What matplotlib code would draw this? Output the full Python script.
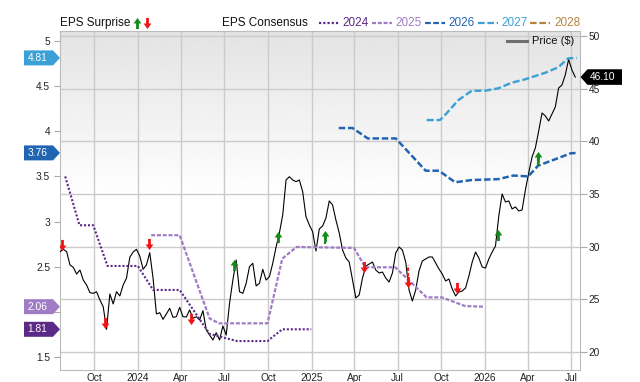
import numpy as np
import pandas as pd
import matplotlib
matplotlib.use("Agg")
import matplotlib.pyplot as plt
from matplotlib.path import Path
from matplotlib.patches import Polygon
from matplotlib.lines import Line2D
from matplotlib.transforms import IdentityTransform

plt.rcParams['font.family'] = ['Liberation Sans', 'DejaVu Sans']

# weekly closing price ($), first week 2023-07-21
price_start = "2023-07-21"
price = [29.52, 29.75, 29.52, 28.26, 28.04, 27.40, 27.78, 26.83, 26.36, 25.63,
         25.57, 25.72, 24.94, 24.30, 22.15, 25.51, 24.56, 25.72, 25.32, 26.36,
         27.00, 28.99, 29.49, 29.75, 29.11, 27.85, 28.26, 29.43, 27.00, 23.61,
         23.73, 23.10, 23.61, 24.15, 23.29, 23.35, 24.24, 23.35, 23.32, 23.99,
         23.20, 23.35, 23.04, 23.92, 22.09, 21.61, 21.14, 21.83, 21.14, 22.47,
         21.61, 24.62, 26.83, 28.73, 25.72, 25.57, 26.52, 28.10, 28.42, 26.27,
         26.52, 27.85, 26.83, 27.15, 28.42, 29.97, 31.30, 33.01, 36.33, 36.64,
         36.33, 36.17, 36.33, 35.22, 32.85, 32.06, 31.42, 29.59, 31.68, 31.96,
         32.72, 34.34, 33.96, 32.53, 31.30, 29.68, 28.92, 28.54, 26.83, 25.13,
         25.41, 27.02, 28.16, 28.35, 28.54, 27.78, 27.50, 27.59, 27.02, 26.64,
         27.50, 29.40, 29.97, 29.68, 28.54, 25.89, 24.84, 25.89, 27.69, 28.64,
         28.83, 29.02, 29.02, 28.45, 27.88, 27.40, 26.74, 26.93, 25.98, 25.32,
         25.70, 25.79, 26.08, 27.21, 28.54, 29.49, 28.92, 28.07, 27.97, 28.83,
         29.49, 30.06, 32.91, 35.00, 34.24, 34.34, 33.58, 33.77, 33.39, 33.48,
         35.38, 36.99, 38.51, 39.37, 40.98, 42.69, 42.41, 41.93, 42.60, 43.26,
         45.06, 45.35, 46.30, 47.77, 46.77, 46.10]

# EPS consensus by fiscal year
eps24_dates = ["2023-08-01", "2023-08-31", "2023-09-29", "2023-10-29", "2024-01-01",
               "2024-02-02", "2024-03-29", "2024-05-31", "2024-06-28", "2024-07-28",
               "2024-09-30", "2024-10-31", "2024-12-31"]
eps24 = [3.50, 2.96, 2.96, 2.51, 2.51, 2.245, 2.245, 1.76, 1.72, 1.68, 1.68, 1.81, 1.81]

eps25_dates = ["2024-01-29", "2024-03-29", "2024-05-31", "2024-06-20", "2024-09-30",
               "2024-10-31", "2024-11-30", "2025-03-31", "2025-04-24", "2025-06-26",
               "2025-08-31", "2025-10-02", "2025-11-20", "2025-12-29"]
eps25 = [2.85, 2.85, 1.93, 1.876, 1.876, 2.59, 2.72, 2.71, 2.495, 2.495,
         2.163, 2.163, 2.067, 2.06]

eps26_dates = ["2025-02-27", "2025-03-28", "2025-04-29", "2025-06-27", "2025-08-29",
               "2025-09-26", "2025-10-30", "2025-12-04", "2026-01-29", "2026-03-02",
               "2026-04-02", "2026-04-23", "2026-05-29", "2026-06-30", "2026-07-13"]
eps26 = [4.035, 4.035, 3.92, 3.92, 3.563, 3.563, 3.435, 3.46, 3.47, 3.51,
         3.50, 3.62, 3.69, 3.755, 3.76]

eps27_dates = ["2025-08-31", "2025-09-28", "2025-10-09", "2025-11-06", "2025-12-04",
               "2026-01-01", "2026-01-29", "2026-02-26", "2026-03-26", "2026-05-08",
               "2026-06-04", "2026-06-25", "2026-07-13"]
eps27 = [4.123, 4.123, 4.18, 4.344, 4.447, 4.447, 4.474, 4.536, 4.573, 4.646,
         4.706, 4.805, 4.81]

# EPS surprise markers (placed on the price scale)
surprise_dates = ["2023-07-26", "2023-10-24", "2024-01-25", "2024-04-22", "2024-07-22",
                  "2024-10-23", "2025-01-28", "2025-04-22", "2025-07-22", "2025-11-04",
                  "2026-01-28", "2026-04-22"]
surprise_price = [30.16, 22.75, 30.25, 23.10, 28.26, 30.89, 31.01, 28.04, 26.67, 26.05,
                  31.11, 38.54]
surprise_dir = ["down", "down", "down", "down", "up", "up", "up", "down", "down", "down",
                "up", "up"]
surprise_tail = [None, None, None, None, None, None, 30.25, None, 28.26, None, None, 37.44]

xtick_dates = ["2023-10-01", "2024-01-01", "2024-04-01", "2024-07-01", "2024-10-01",
               "2025-01-01", "2025-04-01", "2025-07-01", "2025-10-01", "2026-01-01",
               "2026-04-01", "2026-07-01"]
xtick_labels = ["Oct", "2024", "Apr", "Jul", "Oct", "2025", "Apr", "Jul", "Oct", "2026",
                "Apr", "Jul"]
# the "2" label sits under the 2.06 badge in the original, so it stays blank
eps_tick_labels = ["1.5", "", "2.5", "3", "3.5", "4", "4.5", "5"]

c24, c25, c26, c27, c28 = "#5b2a86", "#a07cc5", "#2165b2", "#3aa0d5", "#b5843f"
green, red = "#13891a", "#f01414"
tick_c = "#222222"

W, H = 640, 382
fig = plt.figure(figsize=(W / 100, H / 100), dpi=100)
ax = fig.add_axes([60 / W, 12 / H, 520 / W, 339.5 / H])
ax2 = ax.twinx()

# background gradient
t = np.linspace(0, 1, 256).reshape(-1, 1)
grad = 0.89 + 0.11 * np.clip(t / 0.5, 0, 1)
ax.imshow(grad, cmap="gray", vmin=0, vmax=1, aspect="auto",
          extent=[0, 1, 0, 1], transform=ax.transAxes, zorder=0)

pdates = pd.date_range(price_start, periods=len(price), freq="7D")
ax.plot(pdates, price, color="black", lw=0.8, zorder=3)

ax.set_xlim(pd.Timestamp("2023-07-21"), pd.Timestamp("2026-07-20"))
ax.set_ylim(18.29, 50.52)
ax.set_yticks(range(20, 51, 5))
ax.set_xticks(pd.to_datetime(xtick_dates))
ax.set_xticklabels(xtick_labels)
ax.set_axisbelow(True)
ax.grid(True, color="#cbcbcb", lw=1)
ax.yaxis.tick_right()
ax.yaxis.set_label_position("right")
ax.tick_params(axis="y", left=False, labelleft=False, right=True, labelright=True,
               length=5.3, pad=1, color="#aaaaaa", labelsize=7.3, labelcolor=tick_c)
ax.tick_params(axis="x", length=0, pad=2, labelsize=7.3, labelcolor=tick_c)
for s in ax.spines.values():
    s.set_color("#bbbbbb")

ax2.yaxis.tick_left()
ax2.set_ylim(1.36, 5.113)
ax2.set_yticks(np.arange(1.5, 5.01, 0.5))
ax2.set_yticklabels(eps_tick_labels)
ax2.tick_params(axis="y", left=True, labelleft=True, right=False, labelright=False,
                length=4.3, pad=2.9, color="#aaaaaa", labelsize=7.3, labelcolor=tick_c)
for s in ax2.spines.values():
    s.set_visible(False)

ax2.plot(pd.to_datetime(eps24_dates), eps24, color=c24, lw=1.5, ls=(0, (1, 0.9)))
ax2.plot(pd.to_datetime(eps25_dates), eps25, color=c25, lw=1.6, ls=(0, (1.8, 0.8)))
ax2.plot(pd.to_datetime(eps26_dates), eps26, color=c26, lw=1.8, ls=(0, (2.6, 1.1)))
ax2.plot(pd.to_datetime(eps27_dates), eps27, color=c27, lw=1.7, ls=(0, (3, 1.2)))

# arrow markers
up_v = [(-0.25, -1), (0.25, -1), (0.25, 0), (0.7, 0), (0, 1), (-0.7, 0), (-0.25, 0), (-0.25, -1)]
arrow_up = Path(up_v, closed=True)
arrow_down = Path([(x, -y) for x, y in up_v], closed=True)

for d, p, k, tail in zip(surprise_dates, surprise_price, surprise_dir, surprise_tail):
    col = green if k == "up" else red
    dt = pd.Timestamp(d)
    if tail is not None:
        ax2.plot([dt, dt], [p, tail], color=col, lw=1.6, ls=(0, (1.5, 1)),
                 transform=ax.transData, zorder=5)
    ax2.plot([dt], [p], marker=arrow_up if k == "up" else arrow_down, ms=8,
             color=col, mec=col, mew=0, ls="none", transform=ax.transData, zorder=6)

ax2.set_xlim(pd.Timestamp("2023-07-21"), pd.Timestamp("2026-07-20"))
ax2.set_ylim(1.36, 5.113)

idt = IdentityTransform()


def badge_left(v, color):
    y = ax2.transData.transform((0, v))[1]
    h = 7.5
    verts = [(24, y - h), (53, y - h), (60, y), (53, y + h), (24, y + h)]
    fig.add_artist(Polygon(verts, closed=True, color=color, transform=idt, lw=0))
    fig.text(37.5, y, f"{v:.2f}", transform=idt, color="white", fontsize=7.4,
             ha="center", va="center")


def badge_right(v, color):
    y = ax.transData.transform((0, v))[1]
    h = 7.8
    verts = [(580.5, y), (587.5, y - h), (622, y - h), (622, y + h), (587.5, y + h)]
    fig.add_artist(Polygon(verts, closed=True, color=color, transform=idt, lw=0))
    fig.text(603, y, f"{v:.2f}", transform=idt, color="white", fontsize=7.4,
             ha="center", va="center")


badge_left(eps27[-1], c27)
badge_left(eps26[-1], c26)
badge_left(eps25[-1], c25)
badge_left(eps24[-1], c24)
badge_right(price[-1], "black")

# top legend
ly = H - 23
fig.text(60.5, ly, "EPS Surprise", transform=idt, fontsize=8.5, va="center", color="#111")
fig.add_artist(Line2D([137.3], [ly], marker=arrow_up, ms=8, color=green, mew=0, transform=idt))
fig.add_artist(Line2D([147.3], [ly], marker=arrow_down, ms=8, color=red, mew=0, transform=idt))
fig.text(221.5, ly, "EPS Consensus", transform=idt, fontsize=8.5, va="center", color="#111")

leg = [("2024", c24, (0, (1, 0.9)), 319, 342),
       ("2025", c25, (0, (1.8, 0.8)), 372, 395),
       ("2026", c26, (0, (2.6, 1.1)), 425, 448),
       ("2027", c27, (0, (3, 1.2)), 478, 501),
       ("2028", c28, (0, (3, 1.2)), 530, 554)]
for lab, col, ls, x0, xt in leg:
    fig.add_artist(Line2D([x0, x0 + 20], [ly, ly], color=col, lw=1.6, ls=ls, transform=idt))
    fig.text(xt, ly, lab, transform=idt, fontsize=8.5, va="center", color=col)

# price legend inside the plot
py = H - 41
fig.add_artist(Line2D([507, 527], [py, py], color="#6e6e6e", lw=2.2, transform=idt))
fig.text(532, py, "Price ($)", transform=idt, fontsize=8, va="center", color="#111")

fig.savefig("out.png", dpi=100)
